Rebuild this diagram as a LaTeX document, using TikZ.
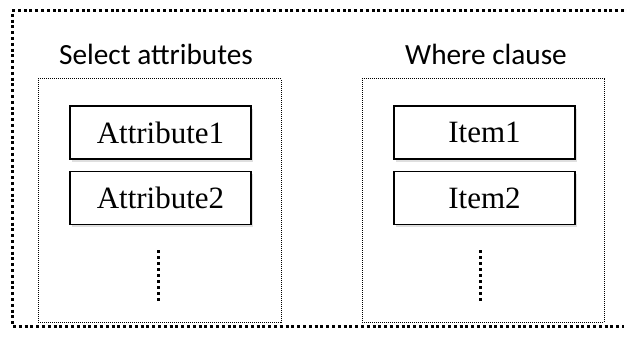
\documentclass[tikz,border=0pt]{standalone}
\usepackage{fontspec}
\setmainfont{Liberation Serif}
\newfontfamily\calib{Carlito}
\usetikzlibrary{shadows}
\begin{document}
\begin{tikzpicture}[x=1pt,y=-1pt,
  outerline/.style={line width=3pt, dash pattern=on 3pt off 2.8pt},
  panel/.style={draw, line width=1pt, dash pattern=on 1pt off 1pt},
  itembox/.style={draw, line width=1.3pt, fill=white, minimum width=181pt, minimum height=53pt, inner sep=0pt,
    font=\fontsize{31}{31}\selectfont,
    drop shadow={opacity=0.25, shadow xshift=1.5pt, shadow yshift=-2.5pt}},
  title/.style={font=\calib\fontsize{29.3}{29.3}\selectfont},
  vdots/.style={line width=3pt, dash pattern=on 3pt off 3pt}]
\useasboundingbox (0,0) rectangle (624,337);
\fill[white] (0,0) rectangle (624,337);
% outer frame (right side beyond picture)
\coordinate (otr) at (624,11);
\coordinate (otl) at (12,11);
\coordinate (obl) at (12,326);
\coordinate (obr) at (624,326);
\draw[outerline] (otr) -- (otl) -- (obl) -- (obr);
% titles
\node[title] (t1) at (156,54) {Select attributes};
\node[title] (t2) at (486,54) {Where clause};
% panels
\node[panel, minimum width=243pt, minimum height=243pt, inner sep=0pt] (p1) at (159.5,200.5) {};
\node[panel, minimum width=242pt, minimum height=243pt, inner sep=0pt] (p2) at (483,200.5) {};
% items
\node[itembox] (a1) at (160.5,132.5) {Attribute1};
\node[itembox] (a2) at (160.5,198) {Attribute2};
\node[itembox] (i1) at (484.5,132.5) {Item1};
\node[itembox] (i2) at (484.5,198) {Item2};
% vertical dots
\coordinate (d1t) at (158,250);
\coordinate (d1b) at (158,301);
\coordinate (d2t) at (480,250);
\coordinate (d2b) at (480,301);
\draw[vdots] (d1t) -- (d1b);
\draw[vdots] (d2t) -- (d2b);
\end{tikzpicture}
\end{document}
